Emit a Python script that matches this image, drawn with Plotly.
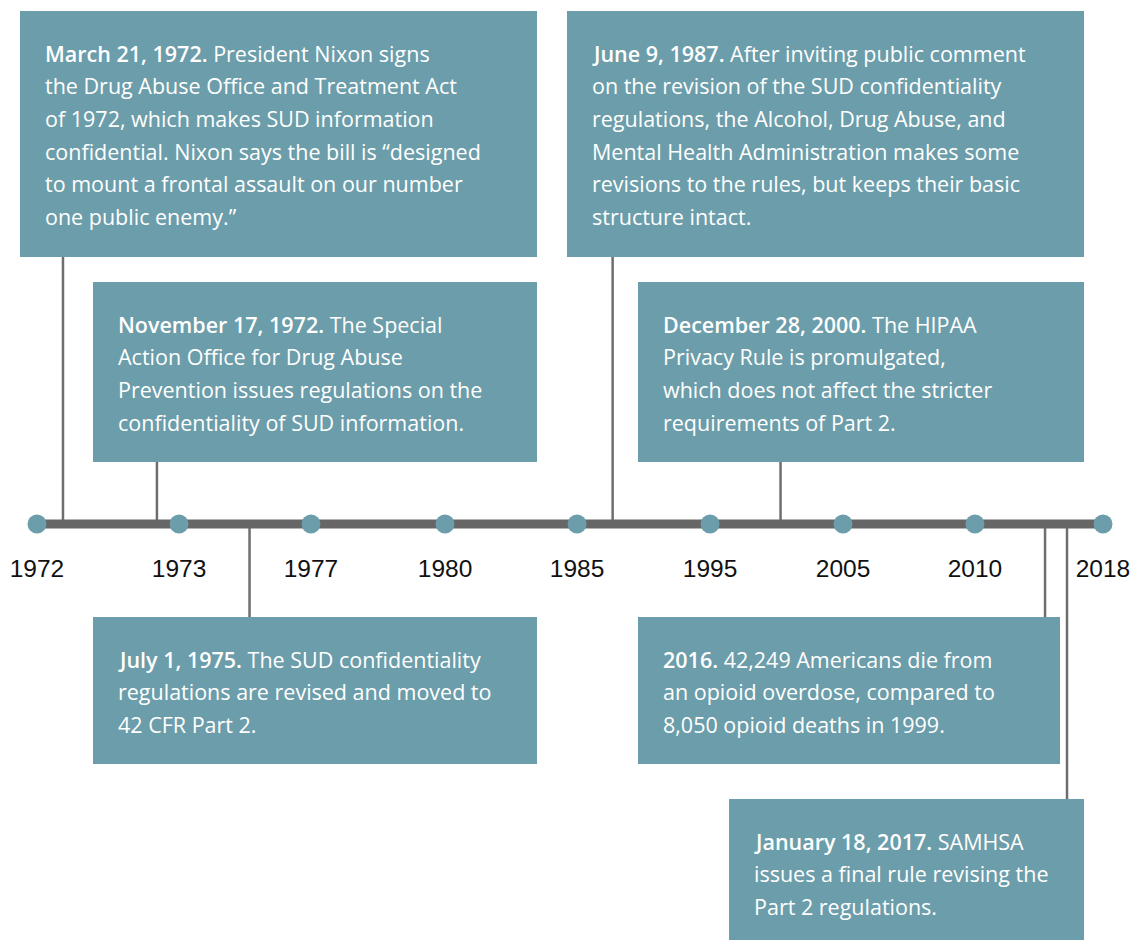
import plotly.graph_objects as go

# ---------------- data ----------------
tick_labels = ["1972", "1973", "1977", "1980", "1985", "1995", "2005", "2010", "2018"]
tick_pos = [0, 1.066, 2.056, 3.062, 4.053, 5.051, 6.049, 7.039, 8.0]

event_pos = [0.195, 0.90, 1.595, 4.32, 5.58, 7.565, 7.73]
event_dates = ["March 21, 1972.", "November 17, 1972.", "July 1, 1975.",
               "June 9, 1987.", "December 28, 2000.", "2016.", "January 18, 2017."]
event_lines = [
    [" President Nixon signs",
     "the Drug Abuse Office and Treatment Act",
     "of 1972, which makes SUD information",
     "confidential. Nixon says the bill is \u201cdesigned",
     "to mount a frontal assault on our number",
     "one public enemy.\u201d"],
    [" The Special",
     "Action Office for Drug Abuse",
     "Prevention issues regulations on the",
     "confidentiality of SUD information."],
    [" The SUD confidentiality",
     "regulations are revised and moved to",
     "42 CFR Part 2."],
    [" After inviting public comment",
     "on the revision of the SUD confidentiality",
     "regulations, the Alcohol, Drug Abuse, and",
     "Mental Health Administration makes some",
     "revisions to the rules, but keeps their basic",
     "structure intact."],
    [" The HIPAA",
     "Privacy Rule is promulgated,",
     "which does not affect the stricter",
     "requirements of Part 2."],
    [" 42,249 Americans die from",
     "an opioid overdose, compared to",
     "8,050 opioid deaths in 1999."],
    [" SAMHSA",
     "issues a final rule revising the",
     "Part 2 regulations."],
]

# ---------------- layout (pixels) ----------------
W, H = 1132, 941
X0_PX, UNIT_PX = 37, 133.25          # pixel of position 0, pixels per unit
TL_Y = 524                            # timeline y
LABEL_Y = 570.5
# box: left, top, right, bottom (px)
boxes = [
    (20, 11, 537, 257),
    (93, 282, 537, 462),
    (93, 617, 537, 764),
    (567, 11, 1084, 257),
    (638, 282, 1084, 462),
    (638, 617, 1060, 764),
    (729, 799, 1084, 940),
]
BOX_COLOR = "#6c9daa"
LINE_COLOR = "#666666"
TEXT_FONT = "Open Sans"
TEXT_SIZE = 21.5
LINE_H = 32.7
PAD_L = 25
FIRST_BASE = 50

fig = go.Figure()

# timeline bar
fig.add_trace(go.Scatter(x=[tick_pos[0], tick_pos[-1]], y=[TL_Y, TL_Y], mode="lines",
                         line=dict(color=LINE_COLOR, width=9), hoverinfo="skip",
                         showlegend=False))
# dots
fig.add_trace(go.Scatter(x=tick_pos, y=[TL_Y] * len(tick_pos), mode="markers",
                         marker=dict(size=19, color=BOX_COLOR), hoverinfo="skip",
                         showlegend=False))
# year labels
fig.add_trace(go.Scatter(x=tick_pos, y=[LABEL_Y] * len(tick_pos), mode="text",
                         text=tick_labels, textposition="middle center",
                         textfont=dict(family="Liberation Sans, Arial", size=24.5, color="#111111"),
                         hoverinfo="skip", showlegend=False))

shapes = []
annotations = []
for i, (l, t, r, b) in enumerate(boxes):
    # connector
    if b < TL_Y:
        y0, y1 = b, TL_Y
    else:
        y0, y1 = TL_Y, t
    shapes.append(dict(type="line", xref="x", yref="y", x0=event_pos[i], x1=event_pos[i],
                       y0=y0, y1=y1, line=dict(color="#6e6e6e", width=2.5), layer="below"))
for i, (l, t, r, b) in enumerate(boxes):
    shapes.append(dict(type="rect", xref="paper", yref="y", x0=l / W, x1=r / W,
                       y0=t, y1=b, fillcolor=BOX_COLOR, line=dict(width=0), layer="above"))
    for j, line in enumerate(event_lines[i]):
        txt = ('<span style="font-weight:600">' + event_dates[i] + "</span>" + line) if j == 0 else line
        base = t + FIRST_BASE + j * LINE_H
        annotations.append(dict(xref="paper", yref="y", x=(l + PAD_L - 2) / W, y=base - 8,
                                xanchor="left", yanchor="middle", align="left",
                                text=txt, showarrow=False,
                                font=dict(family=TEXT_FONT, size=TEXT_SIZE, color="white")))

fig.update_layout(
    width=W, height=H,
    margin=dict(l=0, r=0, t=0, b=0),
    paper_bgcolor="white", plot_bgcolor="white",
    xaxis=dict(range=[-X0_PX / UNIT_PX, (W - X0_PX) / UNIT_PX], visible=False, fixedrange=True),
    yaxis=dict(range=[H, 0], visible=False, fixedrange=True),
    shapes=shapes, annotations=annotations, showlegend=False,
)

fig.write_html("out.html", config={"displayModeBar": False},
               post_script="document.body.style.margin='0';document.body.style.overflow='hidden';")
